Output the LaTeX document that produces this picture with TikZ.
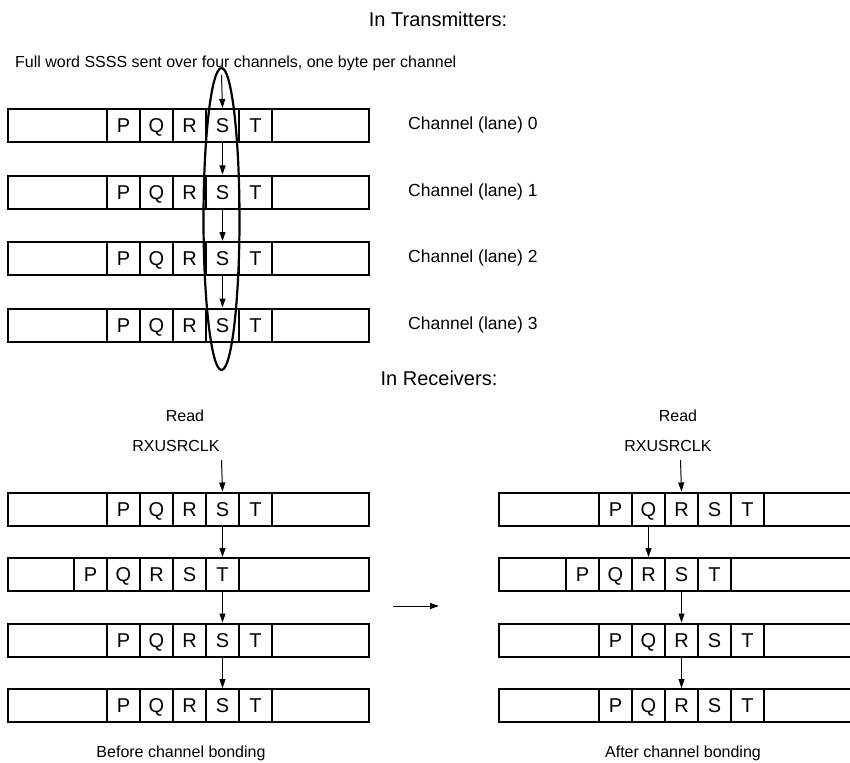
\documentclass[tikz,border=0pt]{standalone}
\usepackage{fontspec}
\setmainfont{Liberation Sans}
\usetikzlibrary{arrows.meta,shapes.geometric}
\tikzset{
 frame/.style={draw, line width=2.2pt, minimum height=33pt, inner sep=0pt, anchor=north west},
 cell/.style={draw, line width=2pt, minimum width=33pt, minimum height=33pt, inner sep=0pt,
   anchor=north west, text height=14pt, text depth=0pt, font=\fontsize{20}{24}\selectfont},
 feed/.style={-{Triangle[length=9pt,width=6pt]}, line width=1pt},
 lbl/.style={font=\fontsize{16}{19}\selectfont, inner sep=0pt, anchor=base},
 head/.style={font=\fontsize{20}{24}\selectfont, inner sep=0pt, anchor=base},
 chl/.style={font=\fontsize{17.5}{21}\selectfont, inner sep=0pt, anchor=base west},
 oval/.style={draw, ellipse, line width=2.2pt, inner sep=0pt},
}
% name, left x, top y, x of P, right x
\newcommand\laneRow[5]{%
  \node[frame, minimum width={(#5-#2)*1pt}] (#1) at (#2,#3) {};
  \foreach \ltr [count=\i from 0] in {P,Q,R,S,T}
    \node[cell] (#1\ltr) at ({#4+33*\i},#3) {\ltr};
}
\begin{document}
\begin{tikzpicture}[x=1pt,y=-1pt]
\useasboundingbox (0,0) rectangle (850,762);

% ---------- Transmitters ----------
\node[head] (htx) at (438,27) {In Transmitters:};
\node[lbl, anchor=base west] (full) at (15,68) {Full word SSSS sent over four channels, one byte per channel};

\laneRow{ta}{7}{108}{106}{368}
\laneRow{tb}{7}{174.5}{106}{368}
\laneRow{tc}{7}{241}{106}{368}
\laneRow{td}{7}{307.5}{106}{368}

\node[chl] (cha) at (408,129.5) {Channel (lane) 0};
\node[chl] (chb) at (408,196) {Channel (lane) 1};
\node[chl] (chc) at (408,262.5) {Channel (lane) 2};
\node[chl] (chd) at (408,329) {Channel (lane) 3};

\node[oval, minimum width=36pt, minimum height=302pt] (ring) at (221.5,219) {};

\coordinate (tin) at (221.5,75);
\draw[feed] (tin) -- (taS.north);
\draw[feed] (taS.south) -- (tbS.north);
\draw[feed] (tbS.south) -- (tcS.north);
\draw[feed] (tcS.south) -- (tdS.north);

% ---------- Receivers ----------
\node[head] (hrx) at (439,385) {In Receivers:};

% before bonding
\node[lbl] (readL) at (185,421.5) {Read};
\node[lbl] (clkL) at (176,451) {RXUSRCLK};
\laneRow{ra}{7}{491.5}{106}{368}
\laneRow{rb}{7}{557}{73}{368}
\laneRow{rc}{7}{622.5}{106}{368}
\laneRow{rd}{7}{688}{106}{368}
\coordinate (rin) at (221.5,460);
\draw[feed] (rin) -- (raS.north);
\draw[feed] (raS.south) -- (rbT.north);
\draw[feed] (rbT.south) -- (rcS.north);
\draw[feed] (rcS.south) -- (rdS.north);
\node[lbl] (before) at (181,757) {Before channel bonding};

% middle arrow
\coordinate (ma) at (393,606);
\coordinate (mb) at (439,606);
\draw[feed] (ma) -- (mb);

% after bonding
\node[lbl] (readR) at (678,421.5) {Read};
\node[lbl] (clkR) at (668,451) {RXUSRCLK};
\laneRow{qa}{498}{491.5}{598}{862}
\laneRow{qb}{498}{557}{565}{862}
\laneRow{qc}{498}{622.5}{598}{862}
\laneRow{qd}{498}{688}{598}{862}
\coordinate (qin) at (680.5,460);
\draw[feed] (qin) -- (qaR.north);
\draw[feed] (qaQ.south) -- (qbR.north);
\draw[feed] (qbS.south) -- (qcR.north);
\draw[feed] (qcR.south) -- (qdR.north);
\node[lbl] (after) at (683,757) {After channel bonding};
\end{tikzpicture}
\end{document}
